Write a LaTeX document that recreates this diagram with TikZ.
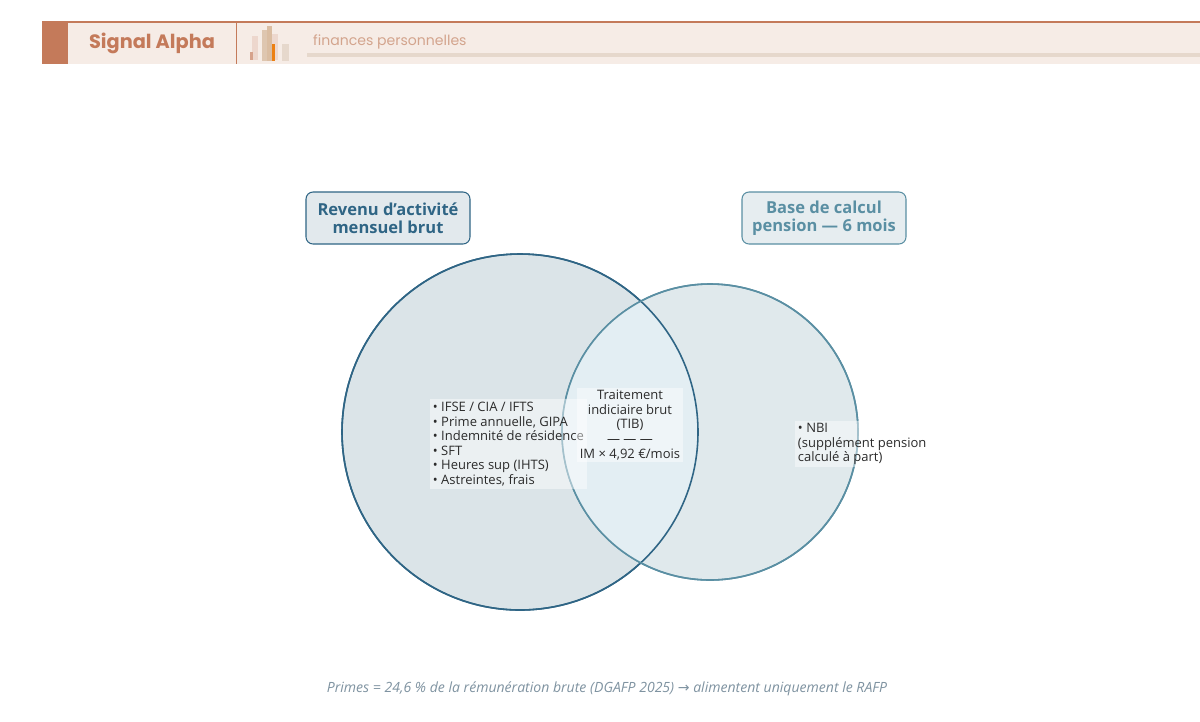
\documentclass[tikz,border=0pt]{standalone}
\usepackage{fontspec}
\setmainfont{Open Sans}
\newfontfamily\popfont{Poppins}
\newfontfamily\symfont{DejaVu Sans}
\usetikzlibrary{positioning}
\definecolor{brick}{HTML}{C47A5A}
\definecolor{band}{HTML}{F6ECE6}
\definecolor{sand}{HTML}{E6D8CC}
\definecolor{darkblue}{HTML}{2F6585}
\definecolor{midblue}{HTML}{5A8FA3}
\definecolor{fillA}{HTML}{DBE4E8}
\definecolor{fillB}{HTML}{E0E9EC}
\definecolor{fillC}{HTML}{E3EEF3}
\definecolor{txt}{HTML}{2B2B2B}
\definecolor{foot}{HTML}{7F93A1}
\tikzset{
  title box/.style={draw, rounded corners=4pt, line width=0.6pt, align=center,
    font=\fontsize{9.4}{10.4}\selectfont\bfseries, minimum width=164*0.02cm, minimum height=52*0.02cm},
  item/.style={fill=white, fill opacity=0.45, text opacity=1, text=txt, inner sep=1.5pt,
    font=\fontsize{7.4}{8.3}\selectfont},
}
\begin{document}
\begin{tikzpicture}[x=0.02cm,y=-0.02cm]
    \useasboundingbox (0,0) rectangle (1200,721);
    \fill[white] (0,0) rectangle (1200,721);

    % Header band
    \fill[band] (42,22) rectangle (1200,64);
    \draw[brick,line width=0.6pt] (42,22) -- (1200,22);
    \fill[brick] (42,22) rectangle (68,64);
    \draw[brick,line width=0.5pt] (236,22) -- (236,64);
    \node[text=brick, font=\popfont\fontsize{11}{12}\selectfont\bfseries] (brand) at (152,43) {Signal Alpha};
    \fill[sand] (307,53) rectangle (1200,57);
    \node[anchor=west, text=brick!55!sand, font=\popfont\fontsize{8}{9}\selectfont] (tag) at (307,42) {finances personnelles};
    % small bars icon
    \fill[brick!40,opacity=0.6] (252,36) rectangle (258,60);
    \fill[sand!80!brown] (262,30) rectangle (267,61);
    \fill[sand!70!brown] (267,26) rectangle (272,61);
    \fill[brick!35,opacity=0.7] (272,34) rectangle (278,60);
    \fill[orange!70!brown] (272,44) rectangle (275,61);
    \fill[sand] (282,44) rectangle (289,61);
    \fill[brick!70] (250,52) rectangle (253,60);

    % Circles
    \draw[darkblue, line width=0.9pt, fill=fillA] (520,432) circle (178);
    \draw[midblue, line width=0.9pt, fill=fillB] (710,432) circle (148);
    \begin{scope}
      \clip (520,432) circle (178);
      \fill[fillC] (710,432) circle (148);
    \end{scope}
    \draw[darkblue, line width=0.9pt] (520,432) circle (178);
    \draw[midblue, line width=0.9pt] (710,432) circle (148);

    % Titles
    \node[title box, draw=darkblue, fill=fillA!80!white, text=darkblue] (revenu) at (388,218) {Revenu d'activité\\mensuel brut};
    \node[title box, draw=midblue, fill=fillB!80!white, text=midblue] (base) at (824,218) {Base de calcul\\pension — 6 mois};

    % Contents
    \node[item, align=left, anchor=west] (primes) at (430,444) {• IFSE / CIA / IFTS\\• Prime annuelle, GIPA\\• Indemnité de résidence\\• SFT\\• Heures sup (IHTS)\\• Astreintes, frais};
    \node[item, align=center] (tib) at (630,425) {Traitement\\indiciaire brut\\(TIB)\\— — —\\IM × 4,92 €/mois};
    \node[item, align=left, anchor=west] (nbi) at (795,444) {• NBI\\(supplément pension\\calculé à part)};

    % Footer
    \node[text=foot, font=\fontsize{8}{9}\selectfont\itshape] (note) at (607,689) {Primes = 24,6 \% de la rémunération brute (DGAFP 2025) {\symfont\upshape →} alimentent uniquement le RAFP};
\end{tikzpicture}
\end{document}
